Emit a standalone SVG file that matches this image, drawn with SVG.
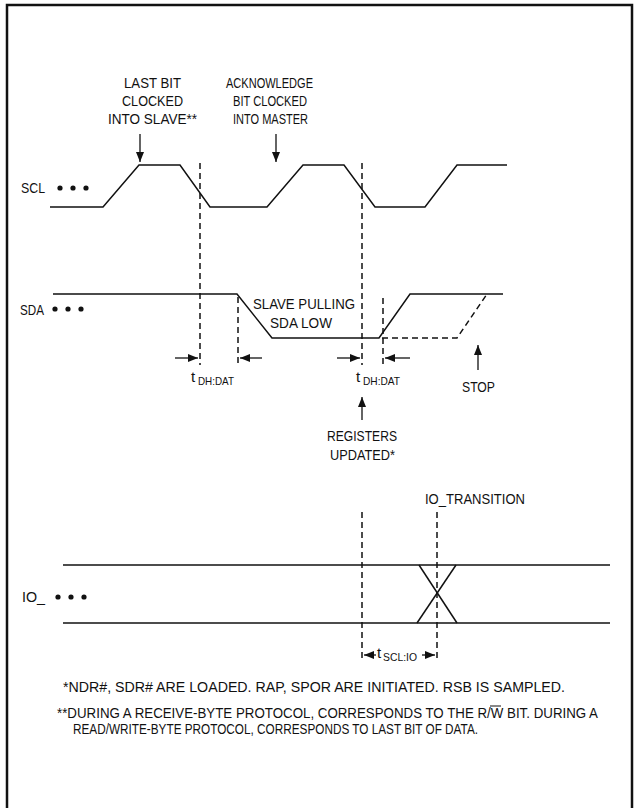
<svg xmlns="http://www.w3.org/2000/svg" width="634" height="808" viewBox="0 0 634 808">
<style>
.t{font-family:"Liberation Sans",Arial,sans-serif;font-size:15px;fill:#111}
.s{font-family:"Liberation Sans",Arial,sans-serif;font-size:11px;fill:#111}
.f{font-family:"Liberation Sans",Arial,sans-serif;font-size:14px;fill:#111}
.w{fill:none;stroke:#111;stroke-width:1.5}
.d{fill:none;stroke:#111;stroke-width:1.5;stroke-dasharray:6 4}
.a{fill:none;stroke:#111;stroke-width:1.3;marker-end:url(#ah)}
</style>
<defs>
<marker id="ah" viewBox="0 0 10 8" refX="10" refY="4" markerWidth="10" markerHeight="8" markerUnits="userSpaceOnUse" orient="auto">
<path d="M0,0 L10,4 L0,8 Z" fill="#111"/>
</marker>
</defs>
<rect x="0" y="0" width="634" height="808" fill="#fff"/>
<rect x="7" y="5" width="625" height="810" fill="none" stroke="#111" stroke-width="2.5"/>

<g id="labels-top">
<text class="t" x="124" y="88" textLength="57" lengthAdjust="spacingAndGlyphs">LAST BIT</text>
<text class="t" x="122" y="106" textLength="61" lengthAdjust="spacingAndGlyphs">CLOCKED</text>
<text class="t" x="108" y="124" textLength="89" lengthAdjust="spacingAndGlyphs">INTO SLAVE**</text>
<text class="t" x="226" y="88" textLength="87" lengthAdjust="spacingAndGlyphs">ACKNOWLEDGE</text>
<text class="t" x="233" y="106" textLength="74" lengthAdjust="spacingAndGlyphs">BIT CLOCKED</text>
<text class="t" x="233" y="124" textLength="75" lengthAdjust="spacingAndGlyphs">INTO MASTER</text>
</g>

<g id="scl">
<text class="t" x="21" y="193" textLength="24" lengthAdjust="spacingAndGlyphs">SCL</text>
<circle cx="60" cy="188" r="2.6" fill="#111"/><circle cx="73" cy="188" r="2.6" fill="#111"/><circle cx="86" cy="188" r="2.6" fill="#111"/>
<polyline class="w" points="50,207 103,207 139,165 180,165 210,207 267,207 303,165 344,165 375,207 425,207 457,165 507,165"/>
</g>

<g id="sda">
<text class="t" x="20" y="315" textLength="24" lengthAdjust="spacingAndGlyphs">SDA</text>
<circle cx="55" cy="309" r="2.6" fill="#111"/><circle cx="68" cy="309" r="2.6" fill="#111"/><circle cx="81" cy="309" r="2.6" fill="#111"/>
<polyline class="w" points="53,294 237,294 272,338 379,338 410,294 503,294"/>
<polyline class="d" points="382,338 457,338 487,294"/>
<text class="t" x="253" y="309" textLength="102" lengthAdjust="spacingAndGlyphs">SLAVE PULLING</text>
<text class="t" x="270" y="328" textLength="62" lengthAdjust="spacingAndGlyphs">SDA LOW</text>
</g>

<g id="io">
<text class="t" x="22" y="602" textLength="23" lengthAdjust="spacingAndGlyphs">IO_</text>
<circle cx="58" cy="597" r="2.6" fill="#111"/><circle cx="71" cy="597" r="2.6" fill="#111"/><circle cx="84" cy="597" r="2.6" fill="#111"/>
<line class="w" x1="63" y1="565" x2="610" y2="565"/>
<line class="w" x1="63" y1="623" x2="610" y2="623"/>
<line class="w" x1="419" y1="565" x2="457" y2="623"/>
<line class="w" x1="456" y1="565" x2="417" y2="623"/>
<text class="t" x="425" y="504" textLength="100" lengthAdjust="spacingAndGlyphs">IO_TRANSITION</text>
</g>

<g id="annotations">
<text class="t" x="191" y="382">t</text>
<text class="s" x="198" y="385" textLength="36" lengthAdjust="spacingAndGlyphs">DH:DAT</text>
<text class="t" x="356" y="382">t</text>
<text class="s" x="363" y="385" textLength="37" lengthAdjust="spacingAndGlyphs">DH:DAT</text>
<text class="t" x="462" y="392" textLength="33" lengthAdjust="spacingAndGlyphs">STOP</text>
<text class="t" x="327" y="441" textLength="70" lengthAdjust="spacingAndGlyphs">REGISTERS</text>
<text class="t" x="330" y="460" textLength="65" lengthAdjust="spacingAndGlyphs">UPDATED*</text>
<text class="t" x="377" y="658">t</text>
<text class="s" x="383" y="661" textLength="34" lengthAdjust="spacingAndGlyphs">SCL:IO</text>
</g>

<g id="connectors">
<line class="d" x1="200" y1="163" x2="200" y2="365"/>
<line class="d" x1="238" y1="297" x2="238" y2="365"/>
<line class="d" x1="362" y1="163" x2="362" y2="365"/>
<line class="d" x1="383" y1="298" x2="383" y2="365"/>
<line class="d" x1="362" y1="512" x2="362" y2="660"/>
<line class="d" x1="437" y1="512" x2="437" y2="660"/>
<line class="a" x1="140" y1="134" x2="140" y2="162"/>
<line class="a" x1="276" y1="134" x2="276" y2="162"/>
<line class="a" x1="175" y1="358" x2="198" y2="358"/>
<line class="a" x1="262" y1="358" x2="240" y2="358"/>
<line class="a" x1="337" y1="358" x2="360" y2="358"/>
<line class="a" x1="410" y1="358" x2="385" y2="358"/>
<line class="a" x1="478" y1="370" x2="478" y2="345"/>
<line class="a" x1="362" y1="420" x2="362" y2="397"/>
<line class="a" x1="376" y1="655" x2="364" y2="655"/>
<line class="a" x1="422" y1="655" x2="435" y2="655"/>
</g>

<g id="footnotes">
<text class="f" x="63" y="692" textLength="502" lengthAdjust="spacingAndGlyphs">*NDR#, SDR# ARE LOADED. RAP, SPOR  ARE INITIATED. RSB IS SAMPLED.</text>
<text class="f" x="57" y="718" textLength="541" lengthAdjust="spacingAndGlyphs">**DURING A RECEIVE-BYTE PROTOCOL, CORRESPONDS TO THE R/W BIT. DURING A</text>
<line x1="490" y1="706" x2="501" y2="706" stroke="#111" stroke-width="1"/>
<text class="f" x="73" y="734" textLength="405" lengthAdjust="spacingAndGlyphs">READ/WRITE-BYTE PROTOCOL, CORRESPONDS TO LAST BIT OF DATA.</text>
</g>
</svg>
